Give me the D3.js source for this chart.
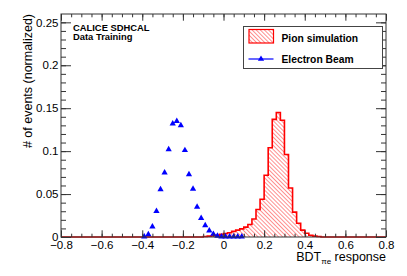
<!DOCTYPE html>
<html>
<head>
<meta charset="utf-8">
<script src="https://cdn.jsdelivr.net/npm/d3@7"></script>
<style>
  body { margin: 0; background: #fff; }
  svg { display: block; font-family: "Liberation Sans", Arial, Helvetica, sans-serif; }
</style>
</head>
<body>
<svg id="chart" width="407" height="276"></svg>
<script>
// pion simulation histogram, bins of 0.02 starting at pionBinLow
var pionBinLow = [-0.10, -0.08, -0.06, -0.04, -0.02, 0.00, 0.02, 0.04, 0.06, 0.08,
                  0.10, 0.12, 0.14, 0.16, 0.18, 0.20, 0.22, 0.24, 0.26, 0.28,
                  0.30, 0.32, 0.34, 0.36, 0.38, 0.40, 0.42, 0.44, 0.46, 0.48];
var pionValues = [0.0005, 0.001, 0.0015, 0.002, 0.003, 0.004, 0.005, 0.0065, 0.008, 0.0095,
                  0.0115, 0.0145, 0.021, 0.032, 0.044, 0.072, 0.104, 0.137, 0.145, 0.136,
                  0.096, 0.057, 0.029, 0.016, 0.008, 0.0043, 0.002, 0.001, 0.0005, 0];
var binWidth = 0.02;

// electron beam points (bin centres)
var elecX = [-0.39, -0.37, -0.35, -0.33, -0.31, -0.29, -0.27, -0.25, -0.23, -0.21,
             -0.19, -0.17, -0.15, -0.13, -0.11, -0.09, -0.07, -0.05, -0.03, -0.01,
             0.01, 0.03, 0.05, 0.07, 0.09];
var elecY = [0.0005, 0.003, 0.012, 0.030, 0.0555, 0.075, 0.102, 0.132, 0.135, 0.130,
             0.101, 0.073, 0.056, 0.035, 0.022, 0.0136, 0.0073, 0.0035, 0.0012, 0.0005,
             0.0005, 0.0005, 0.0005, 0.0005, 0.0005];

var xTicks = [-0.8, -0.6, -0.4, -0.2, 0, 0.2, 0.4, 0.6, 0.8];
var xTickLabels = ["\u22120.8", "\u22120.6", "\u22120.4", "\u22120.2", "0", "0.2", "0.4", "0.6", "0.8"];
var yTicks = [0, 0.05, 0.1, 0.15, 0.2, 0.25];
var yTickLabels = ["0", "0.05", "0.1", "0.15", "0.2", "0.25"];

var svg = d3.select("#chart");
var mLeft = 61, mRight = 386, mTop = 14, mBottom = 237;
var axisCol = "#333";

var x = d3.scaleLinear().domain([-0.8, 0.8]).range([mLeft, mRight]);
var y = d3.scaleLinear().domain([0, 0.2597]).range([mBottom, mTop]);

var defs = svg.append("defs");
var pat = defs.append("pattern")
    .attr("id", "hatch")
    .attr("patternUnits", "userSpaceOnUse")
    .attr("width", 2.9).attr("height", 2.9)
    .attr("patternTransform", "rotate(-45)");
pat.append("line")
    .attr("x1", 0).attr("y1", -1).attr("x2", 0).attr("y2", 5)
    .attr("stroke", "#ff2020").attr("stroke-width", 1);

// histogram step path, full axis range
var pts = [[x(-0.8), y(0)]];
pionBinLow.forEach(function (lo, i) {
    pts.push([x(lo), y(i == 0 ? 0 : pionValues[i - 1])]);
    pts.push([x(lo), y(pionValues[i])]);
});
var last = pionBinLow[pionBinLow.length - 1] + binWidth;
pts.push([x(last), y(pionValues[pionValues.length - 1])]);
pts.push([x(last), y(0)]);
pts.push([x(0.8), y(0)]);

svg.append("path")
    .attr("d", d3.line()(pts) + "Z")
    .attr("fill", "url(#hatch)")
    .attr("stroke", "none");
svg.append("path")
    .attr("d", d3.line()(pts))
    .attr("fill", "none")
    .attr("stroke", "#ff0000")
    .attr("stroke-width", 1.6);

// electron markers
var tri = d3.symbol().type(d3.symbolTriangle).size(17);
svg.append("g").selectAll("path")
    .data(elecX)
    .enter()
    .append("path")
    .attr("d", tri)
    .attr("fill", "#0000ff")
    .attr("transform", function (d, i) {
        return "translate(" + x(d) + "," + y(elecY[i]) + ")";
    });

// frame
svg.append("rect")
    .attr("x", mLeft).attr("y", mTop)
    .attr("width", mRight - mLeft).attr("height", mBottom - mTop)
    .attr("fill", "none").attr("stroke", axisCol).attr("stroke-width", 1);

var xMinor = d3.range(-0.8, 0.8001, 0.05);
var yMinor = d3.range(0, 0.2597, 0.01);

function ticks(g) {
    g.selectAll(".domain").remove();
    g.selectAll("line").attr("stroke", axisCol);
}

svg.append("g").attr("transform", "translate(0," + mBottom + ")")
    .call(d3.axisBottom(x).tickValues(xMinor).tickSize(-3.3).tickFormat(""))
    .call(ticks);
svg.append("g").attr("transform", "translate(0," + mBottom + ")")
    .call(d3.axisBottom(x).tickValues(xTicks).tickSize(-6.7).tickPadding(4)
        .tickFormat(function (d, i) { return xTickLabels[i]; }))
    .call(ticks)
    .selectAll("text").attr("font-size", 11.5).attr("fill", "#000")
    .attr("font-family", "Liberation Sans, Arial, sans-serif");
svg.append("g").attr("transform", "translate(0," + mTop + ")")
    .call(d3.axisTop(x).tickValues(xMinor).tickSize(-3.3).tickFormat(""))
    .call(ticks);
svg.append("g").attr("transform", "translate(0," + mTop + ")")
    .call(d3.axisTop(x).tickValues(xTicks).tickSize(-6.7).tickFormat(""))
    .call(ticks);

svg.append("g").attr("transform", "translate(" + mLeft + ",0)")
    .call(d3.axisLeft(y).tickValues(yMinor).tickSize(-5).tickFormat(""))
    .call(ticks);
svg.append("g").attr("transform", "translate(" + mLeft + ",0)")
    .call(d3.axisLeft(y).tickValues(yTicks).tickSize(-10).tickPadding(2.5)
        .tickFormat(function (d, i) { return yTickLabels[i]; }))
    .call(ticks)
    .selectAll("text").attr("font-size", 11.5).attr("fill", "#000")
    .attr("font-family", "Liberation Sans, Arial, sans-serif");
svg.append("g").attr("transform", "translate(" + mRight + ",0)")
    .call(d3.axisRight(y).tickValues(yMinor).tickSize(-5).tickFormat(""))
    .call(ticks);
svg.append("g").attr("transform", "translate(" + mRight + ",0)")
    .call(d3.axisRight(y).tickValues(yTicks).tickSize(-10).tickFormat(""))
    .call(ticks);

// axis titles
var xt = svg.append("text")
    .attr("x", mRight).attr("y", 261)
    .attr("text-anchor", "end")
    .attr("font-size", 12.5);
xt.append("tspan").text("BDT");
xt.append("tspan").attr("font-size", 8).attr("dy", 2.5).text("\u03c0e");
xt.append("tspan").attr("dy", -2.5).text(" response");

svg.append("text")
    .attr("transform", "translate(32," + mTop + ") rotate(-90)")
    .attr("text-anchor", "end")
    .attr("font-size", 12.5)
    .text("# of events (normalized)");

// labels
svg.append("text").attr("x", 73).attr("y", 30.7)
    .attr("font-size", 9.4).attr("font-weight", "bold").text("CALICE SDHCAL");
svg.append("text").attr("x", 73).attr("y", 39.8)
    .attr("font-size", 9.4).attr("font-weight", "bold").text("Data Training");

// legend
var leg = svg.append("g");
leg.append("rect")
    .attr("x", 243.5).attr("y", 26.5).attr("width", 139).attr("height", 42)
    .attr("fill", "#fff").attr("stroke", "#444").attr("stroke-width", 1);
leg.append("rect")
    .attr("x", 249).attr("y", 29.5).attr("width", 24.5).attr("height", 13.5)
    .attr("fill", "url(#hatch)").attr("stroke", "#ff0000").attr("stroke-width", 1.2);
leg.append("line")
    .attr("x1", 248.5).attr("x2", 273.5).attr("y1", 59).attr("y2", 59)
    .attr("stroke", "#0000ff").attr("stroke-width", 1.2);
leg.append("path").attr("d", tri).attr("fill", "#0000ff")
    .attr("transform", "translate(261,59)");
leg.append("text").attr("x", 281.5).attr("y", 42)
    .attr("font-size", 10.3).attr("font-weight", "bold").text("Pion simulation");
leg.append("text").attr("x", 281.5).attr("y", 62.5)
    .attr("font-size", 10.3).attr("font-weight", "bold").text("Electron Beam");
</script>
</body>
</html>
